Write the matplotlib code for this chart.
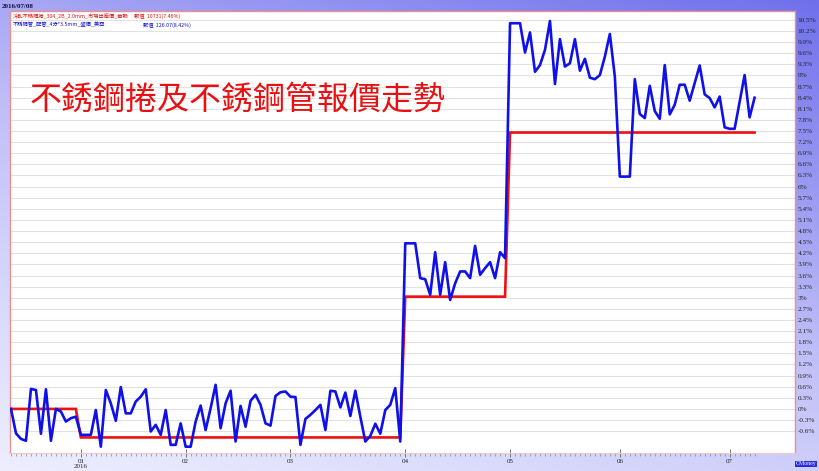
import numpy as np
import pandas as pd
import matplotlib
matplotlib.use("Agg")
import matplotlib.pyplot as plt
from matplotlib.colors import LinearSegmentedColormap

# ---------------- data ----------------
start_date = "2015-12-14"
end_date = "2016-07-08"

# blue: 不銹鋼管 change (%) per business day
blue_vals = [
    0.00, -0.66, -0.81, -0.86, 0.54, 0.51, -0.67, 0.53, -0.86, 0.00,
    -0.07, -0.34, -0.25, -0.21, -0.70, -0.70, -0.70, -0.03, -1.02, 0.51,
    0.15, -0.32, 0.59, -0.12, -0.12, 0.20, 0.33, 0.53, -0.61, -0.43,
    -0.70, -0.03, -0.97, -0.97, -0.39, -1.02, -1.02, -0.34, 0.09, -0.57,
    0.02, 0.65, -0.52, 0.15, 0.49, -0.88, 0.08, -0.48, 0.22, 0.38,
    0.11, -0.39, -0.45, 0.35, 0.45, 0.47, 0.33, 0.32, -0.97, -0.27,
    -0.16, -0.03, 0.11, -0.57, 0.49, 0.47, 0.04, 0.44, -0.19, 0.49,
    -0.21, -0.88, -0.73, -0.40, -0.67, -0.03, 0.11, 0.56, -0.88, 4.47,
    4.47, 4.47, 3.53, 3.50, 3.08, 4.23, 3.08, 3.96, 2.94, 3.39,
    3.71, 3.71, 3.53, 4.40, 3.62, 3.80, 3.96, 3.53, 4.23, 4.07,
    10.41, 10.41, 10.41, 9.62, 10.16, 9.10, 9.28, 9.69, 10.47, 8.77,
    9.98, 9.24, 9.33, 9.98, 9.13, 9.45, 8.94, 8.90, 9.01, 9.51,
    10.12, 8.97, 6.27, 6.27, 6.27, 8.90, 7.96, 7.85, 8.72, 8.04,
    7.83, 9.28, 7.95, 8.21, 8.75, 8.75, 8.32, 8.79, 9.27, 8.49,
    8.39, 8.14, 8.43, 7.60, 7.56, 7.56, 8.29, 9.01, 7.87, 8.40,
]

# red: 冷軋不銹鋼捲 monthly price change (%)
red_months = ["2015-12", "2016-01", "2016-02", "2016-03", "2016-04", "2016-05", "2016-06", "2016-07"]
red_month_vals = [0.00, -0.77, -0.77, -0.77, 3.03, 7.46, 7.46, 7.46]

month_labels = ["01\n2016", "02", "03", "04", "05", "06", "07"]
month_starts = ["2016-01", "2016-02", "2016-03", "2016-04", "2016-05", "2016-06", "2016-07"]

ytick_vals = [round(-0.6 + 0.3 * k, 1) for k in range(38)]

title_text = "不銹鋼捲及不銹鋼管報價走勢"
header_date = "2016/07/08"
legend_red_name = "冷軋不銹鋼捲_304_2B_2.0mm_市場出廠價_華聯"
legend_red_val = "數值  10731(7.46%)"
legend_blue_name = "不銹鋼管_配管_4分*3.5mm_盤價_美亞"
legend_blue_val = "數值  126.07(8.42%)"

# ---------------- build ----------------
dates = pd.bdate_range(start_date, end_date)
idx = np.arange(len(dates))
periods = dates.to_period("M").astype(str)
red_map = dict(zip(red_months, red_month_vals))
red_vals = [red_map[p] for p in periods]
month_idx = [int(np.argmax(periods == m)) for m in month_starts]

cjk = ["Noto Sans CJK TC", "DejaVu Sans"]
serif = ["Liberation Serif", "DejaVu Serif"]

W, H = 820, 471
fig = plt.figure(figsize=(W / 100, H / 100), dpi=100)

# gradient background
bg = fig.add_axes([0, 0, 1, 1], zorder=-10)
gy, gx = np.mgrid[0:1:200j, 0:1:300j]
t = 0.65 * gy + 0.35 * gx
cmap = LinearSegmentedColormap.from_list("bg", ["#eeeeff", "#c0c0f8", "#7070ec"])
bg.imshow(t, origin="lower", cmap=cmap, extent=[0, 1, 0, 1], aspect="auto", vmin=0, vmax=1)
bg.axis("off")

def fx(px):
    return px / W

def fy(py):
    return 1 - py / H

left, right, top, bottom = 10, 795, 11, 453
ax = fig.add_axes([fx(left), fy(bottom), fx(right) - fx(left), fy(top) - fy(bottom)])
ax.set_facecolor("white")

ax.plot(idx, red_vals, color="#ee1111", lw=1.9, zorder=3, solid_joinstyle="miter")
ax.plot(idx, blue_vals, color="#1010e8", lw=1.9, zorder=4)

ax.set_xlim(-0.2, 157.1)
ax.set_ylim(-1.19, 10.74)

ax.set_yticks(ytick_vals)
ax.set_yticklabels([f"{v:g}%" for v in ytick_vals], fontsize=5.2, family=serif, color="#222222")
ax.yaxis.tick_right()
ax.tick_params(axis="y", length=0, pad=2)
ax.grid(axis="y", color="#e2e2e2", lw=0.8)
ax.set_axisbelow(True)

ax.set_xticks(month_idx)
ax.set_xticklabels(month_labels, fontsize=5, family=serif, color="#222222", linespacing=1.1)
ax.set_xticks(idx, minor=True)
ax.tick_params(axis="x", which="major", length=6, width=0.7, color="#777777", pad=1, direction="inout")
ax.tick_params(axis="x", which="minor", length=2.5, width=0.5, color="#888888", direction="out")

for s in ["left", "right", "top"]:
    ax.spines[s].set_color("#e89090")
    ax.spines[s].set_linewidth(1.0)
ax.spines["bottom"].set_color("#f0c8c8")
ax.spines["bottom"].set_linewidth(0.8)

# header / legend texts
fig.text(fx(2), fy(6), header_date, fontsize=5, family=serif, fontweight="bold",
         color="#101040", va="center", ha="left")
fig.text(fx(13), fy(16), legend_red_name, fontsize=3.8, family=cjk, color="#e01010", va="center")
fig.text(fx(134), fy(16), legend_red_val, fontsize=3.8, family=cjk, color="#e01010", va="center")
fig.text(fx(13), fy(25), legend_blue_name, fontsize=3.8, family=cjk, color="#1010d0", va="center")
fig.text(fx(143), fy(25), legend_blue_val, fontsize=3.8, family=cjk, color="#1010d0", va="center")

fig.text(fx(30), fy(100), title_text, fontsize=23, family=cjk, color="#e81010", va="center", ha="left")

fig.text(fx(806), fy(464), "CMoney", fontsize=4.2, family=serif, color="white", va="center", ha="center",
         bbox=dict(boxstyle="square,pad=0.15", facecolor="#2a2ae0", edgecolor="none"))

fig.savefig("out.png", dpi=100)
